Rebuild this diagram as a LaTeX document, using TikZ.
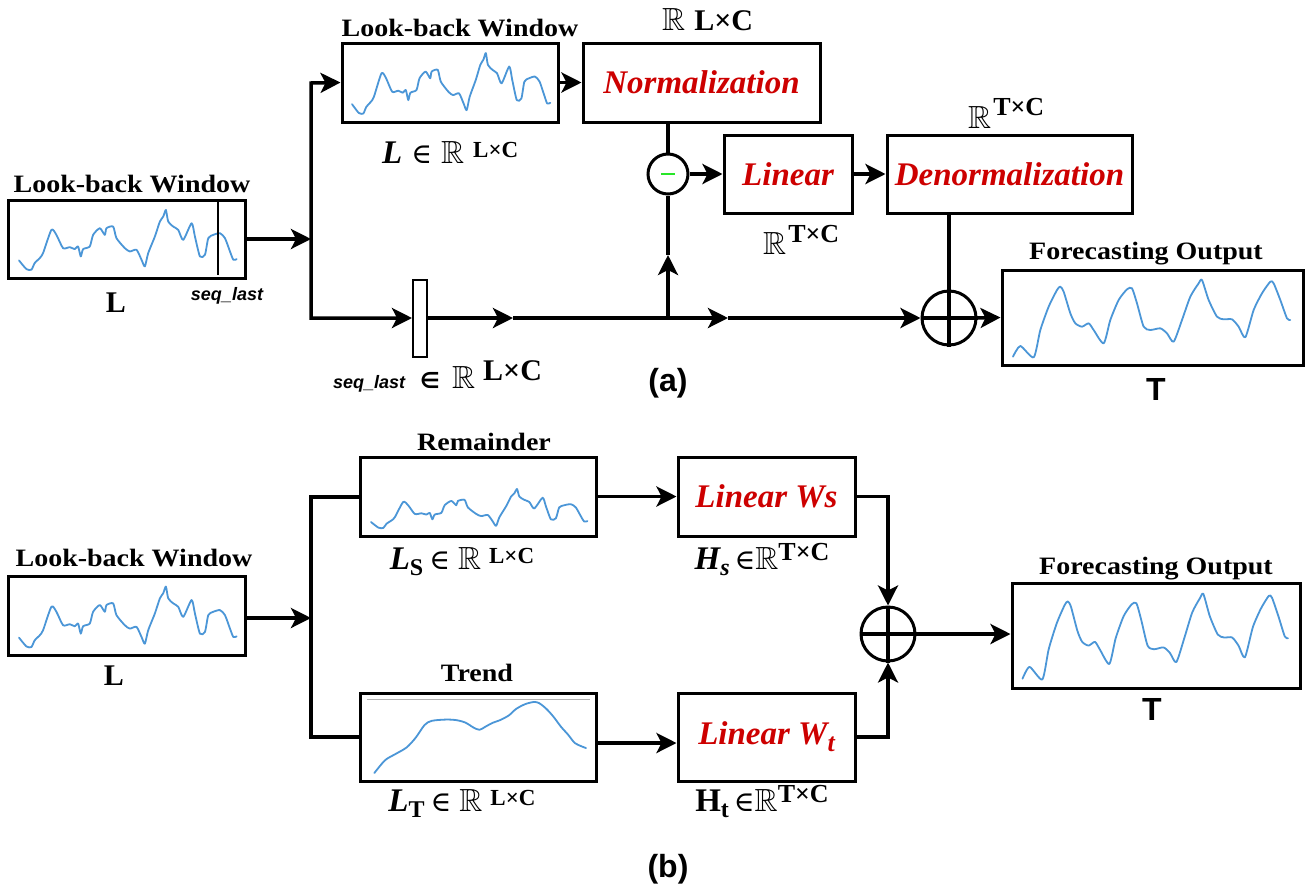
\documentclass[tikz,border=0pt]{standalone}
\usepackage{fontspec}
\usepackage{amssymb}
\DeclareFontFamily{U}{msb}{}
\DeclareFontShape{U}{msb}{m}{n}{<-> msbm10}{}
\setmainfont{Liberation Serif}
\setsansfont{Liberation Sans}
\newfontfamily\hdr[FakeStretch=1.12]{Liberation Serif}
\newfontfamily\dvs{DejaVu Serif}
\newfontfamily\dvsans{DejaVu Sans}
\usetikzlibrary{arrows.meta}
\definecolor{sparkblue}{RGB}{75,150,215}
\definecolor{redtxt}{RGB}{205,0,0}
\definecolor{minusgreen}{RGB}{40,230,40}
\newcommand{\RR}{\ensuremath{\mathbb{R}}}
\newcommand{\fsz}[1]{\fontsize{#1}{#1}\selectfont}
\newcommand{\lbcurve}{\draw[spark] plot[smooth,tension=0.4] coordinates {(33,182) (55,208) (70,210) (80,190) (95,175) (105,160) (130,90) (145,105) (165,145) (185,142) (200,148) (210,140) (218,170) (225,148) (245,140) (255,105) (275,85) (290,105) (295,85) (315,80) (325,115) (350,145) (365,155) (385,150) (400,180) (410,200) (420,160) (440,110) (455,65) (465,50) (473,30) (480,65) (495,80) (510,90) (525,120) (550,70) (560,110) (575,170) (590,165) (600,115) (615,105) (635,100) (650,115) (665,155) (675,180) (685,178)};}
\newcommand{\fccurve}{\draw[spark] plot[smooth,tension=0.4] coordinates {(33,260) (55,228) (95,262) (115,180) (140,110) (165,60) (175,50) (185,65) (205,130) (220,160) (240,170) (260,160) (275,180) (305,220) (325,150) (350,90) (375,58) (390,55) (405,100) (425,170) (445,180) (475,175) (495,190) (515,215) (540,150) (565,80) (590,40) (600,30) (620,90) (645,140) (665,148) (690,148) (710,170) (730,202) (755,120) (780,70) (805,35) (815,40) (835,90) (855,145) (865,150)};}
\newcommand{\trcurve}{\draw[spark] plot[smooth,tension=0.5] coordinates {(40,250) (70,210) (100,190) (130,170) (155,140) (180,100) (200,87) (240,83) (270,85) (295,93) (315,107) (333,115) (350,105) (370,93) (390,85) (415,70) (435,50) (460,35) (485,28) (500,32) (520,50) (540,75) (560,105) (580,130) (600,157) (630,172)};}
\begin{document}
\begin{tikzpicture}[x=1pt,y=-1pt,
  box/.style={draw, line width=3pt, inner sep=0pt, fill=white},
  conn/.style={line width=3.5pt},
  tipS/.tip={Stealth[length=20pt,width=20pt,inset=5pt]},
  arr/.style={conn, -tipS},
  spark/.style={sparkblue, line width=1.8pt, line join=round, line cap=round},
  lbl/.style={inner sep=0pt, anchor=base},
  optext/.style={text=redtxt, font=\fsz{33}\bfseries\itshape},
  ring/.style={draw, circle, line width=3pt, inner sep=0pt, fill=white}]
\useasboundingbox (0,0) rectangle (1312,892);

% ---------------- panel (a) ----------------
\node[box, minimum width=237pt, minimum height=78pt] (lbA) at (126.5,239) {};
\node[box, minimum width=216pt, minimum height=79pt] (lbTop) at (450,82.5) {};
\node[box, optext, minimum width=237pt, minimum height=79pt] (norm) at (701.5,82.5) {Normalization};
\node[ring, minimum size=40pt] (minus) at (668,174) {};
\node[box, optext, minimum width=128pt, minimum height=78pt] (lin) at (788,174) {Linear};
\node[box, optext, minimum width=245pt, minimum height=78pt] (denorm) at (1009.5,174) {Denormalization};
\node[ring, minimum size=54pt] (plusA) at (949,318) {};
\node[box, minimum width=301pt, minimum height=95pt] (fcA) at (1152.5,317.5) {};
\node[box, line width=2pt, minimum width=14pt, minimum height=77pt] (seqbox) at (420,318) {};

\begin{scope}[shift={(8,200)},xscale=0.3338,yscale=0.332]\lbcurve\end{scope}
\begin{scope}[shift={(342,43)},xscale=0.304,yscale=0.336]\lbcurve\end{scope}
\begin{scope}[shift={(1002,270)},xscale=0.3333,yscale=0.3333]\fccurve\end{scope}
\draw[line width=2.5pt] (218,202) -- (218,275);
\draw[minusgreen, line width=2.5pt] ([xshift=-7pt]minus.center) -- ([xshift=7pt]minus.center);

\coordinate (jA) at (311,239);
\coordinate (tA) at (311,83);
\coordinate (bA) at (311,318);
\coordinate (mA1) at (513,318);
\coordinate (mA2) at (728,318);
\coordinate (kA) at (668,318);
\coordinate (uA) at (668,255);

\draw[arr] (lbA.east) -- (jA);
\draw[conn, tipS-tipS] (lbTop.west) -- (tA) -- (bA) -- (seqbox.west);
\draw[arr] (lbTop.east) -- (norm.west);
\draw[arr] (seqbox.east) -- (mA1);
\draw[arr] (mA1) -- (mA2);
\draw[arr] (mA2) -- (plusA.west);
\draw[arr] (kA) -- (uA);
\draw[conn] (uA) -- (minus.south);
\draw[conn] (norm.south -| minus) -- (minus.north);
\draw[arr] (minus.east) -- (lin.west);
\draw[arr] (lin.east) -- (denorm.west);
\draw[conn] (denorm.south -| plusA) -- (plusA.south);
\draw[conn] (plusA.west) -- (plusA.east);
\draw[arr] (plusA.east) -- (fcA.west);

\node[lbl] (tLbA) at (132,192) {\fsz{25}\hdr\bfseries Look-back Window};
\node[lbl] (tLA) at (116,312) {\fsz{30}\bfseries L};
\node[lbl] (tSeqA) at (227,300) {\fsz{18}\sffamily\bfseries\itshape seq\_last};
\node[lbl] (tLbTop) at (460,36) {\fsz{25}\hdr\bfseries Look-back Window};
\node[lbl, anchor=base west] (dimA) at (382,163) {{\fsz{33}\bfseries\itshape L}\hspace{9pt}{\fsz{28}\dvs ∈}\hspace{9pt}{\fsz{32}\RR}\hspace{9pt}\raisebox{6pt}{\fsz{23}\bfseries L×C}};
\node[lbl, anchor=base west] (dimNorm) at (662,30) {{\fsz{32}\RR}\hspace{9pt}{\fsz{30}\bfseries L×C}};
\node[lbl, anchor=base west] (dimLin) at (763,254) {{\fsz{32}\RR}\hspace{2pt}\raisebox{12pt}{\fsz{26}\bfseries T×C}};
\node[lbl, anchor=base west] (dimDen) at (968,128) {{\fsz{32}\RR}\hspace{2pt}\raisebox{13pt}{\fsz{26}\bfseries T×C}};
\node[lbl] (tFcA) at (1146,259) {\fsz{25}\hdr\bfseries Forecasting Output};
\node[lbl] (tTA) at (1156,400) {\fsz{32}\sffamily\bfseries T};
\node[lbl, anchor=base west] (sq1) at (333,388) {\fsz{18}\sffamily\bfseries\itshape seq\_last};
\node[lbl, anchor=base west] (sq2) at (420,388) {\fsz{22}\dvsans\bfseries ∈};
\node[lbl, anchor=base west] (sq3) at (452,388) {\fsz{32}\RR};
\node[lbl, anchor=base west] (sq4) at (483,380) {\fsz{30}\bfseries L×C};
\node[lbl] (capA) at (668,391) {\fsz{32}\sffamily\bfseries (a)};

% ---------------- panel (b) ----------------
\node[box, minimum width=237pt, minimum height=79pt] (lbB) at (126.5,616) {};
\node[box, minimum width=236pt, minimum height=79pt] (rem) at (478,496.5) {};
\node[box, optext, minimum width=177pt, minimum height=79pt] (linS) at (766.5,496.5) {Linear Ws};
\node[box, minimum width=236pt, minimum height=88pt] (trend) at (478,737) {};
\node[box, optext, minimum width=177pt, minimum height=88pt] (linT) at (766.5,737) {Linear W\raisebox{-7pt}{\fsz{26}t}};
\node[ring, minimum size=54pt] (plusB) at (888,634) {};
\node[box, minimum width=288pt, minimum height=105pt] (fcB) at (1156,635.5) {};

\begin{scope}[shift={(8,576.5)},xscale=0.3338,yscale=0.336]\lbcurve\end{scope}
\begin{scope}[shift={(360,482.5)},xscale=0.332,yscale=0.2167]\lbcurve\end{scope}
\begin{scope}[shift={(360,693)},xscale=0.3587,yscale=0.32]
  \draw[gray!60, line width=0.8pt] (20,20) -- (640,20);
  \trcurve
\end{scope}
\begin{scope}[shift={(1012,583)},xscale=0.319,yscale=0.368]\fccurve\end{scope}

\coordinate (jB) at (311,618);
\coordinate (tB) at (311,497);
\coordinate (bB) at (311,737);

\draw[arr] (lbB.east |- jB) -- (jB);
\draw[conn] (rem.west |- tB) -- (tB) -- (bB) -- (trend.west |- bB);
\draw[arr] (rem.east) -- (linS.west);
\draw[arr] ([yshift=-6pt]trend.east) -- ([yshift=-6pt]linT.west);
\draw[arr] (linS.east) -- (linS.east -| plusB) -- (plusB.north);
\draw[arr] (linT.east) -- (linT.east -| plusB) -- (plusB.south);
\draw[conn] (plusB.north) -- (plusB.south);
\draw[conn] (plusB.west) -- (plusB.east);
\draw[arr] (plusB.east) -- (plusB.east -| fcB.west);

\node[lbl] (tLbB) at (134,566) {\fsz{25}\hdr\bfseries Look-back Window};
\node[lbl] (tLB) at (114,685) {\fsz{30}\bfseries L};
\node[lbl] (tRem) at (484,450) {\fsz{25}\hdr\bfseries Remainder};
\node[lbl] (tTrend) at (477,681) {\fsz{25}\hdr\bfseries Trend};
\node[lbl] (dimRem) at (462,569) {{\fsz{33}\bfseries\itshape L}\raisebox{-6pt}{\fsz{24}\bfseries S}\hspace{6pt}{\fsz{28}\dvs ∈}\hspace{8pt}{\fsz{32}\RR}\hspace{8pt}\raisebox{6pt}{\fsz{23}\bfseries L×C}};
\node[lbl] (dimS) at (762,569) {{\fsz{33}\bfseries\itshape H}\raisebox{-6pt}{\fsz{24}\bfseries\itshape s}\hspace{5pt}{\fsz{28}\dvs ∈}{\fsz{32}\RR}\raisebox{9pt}{\fsz{26}\bfseries T×C}};
\node[lbl] (dimTr) at (462,811) {{\fsz{33}\bfseries\itshape L}\raisebox{-6pt}{\fsz{24}\bfseries T}\hspace{6pt}{\fsz{28}\dvs ∈}\hspace{8pt}{\fsz{32}\RR}\hspace{8pt}\raisebox{6pt}{\fsz{23}\bfseries L×C}};
\node[lbl] (dimT) at (762,811) {{\fsz{33}\bfseries H}\raisebox{-6pt}{\fsz{24}\bfseries t}\hspace{5pt}{\fsz{28}\dvs ∈}{\fsz{32}\RR}\raisebox{9pt}{\fsz{26}\bfseries T×C}};
\node[lbl] (tFcB) at (1156,574) {\fsz{25}\hdr\bfseries Forecasting Output};
\node[lbl] (tTB) at (1152,720) {\fsz{32}\sffamily\bfseries T};
\node[lbl] (capB) at (668,877) {\fsz{32}\sffamily\bfseries (b)};
\end{tikzpicture}
\end{document}
